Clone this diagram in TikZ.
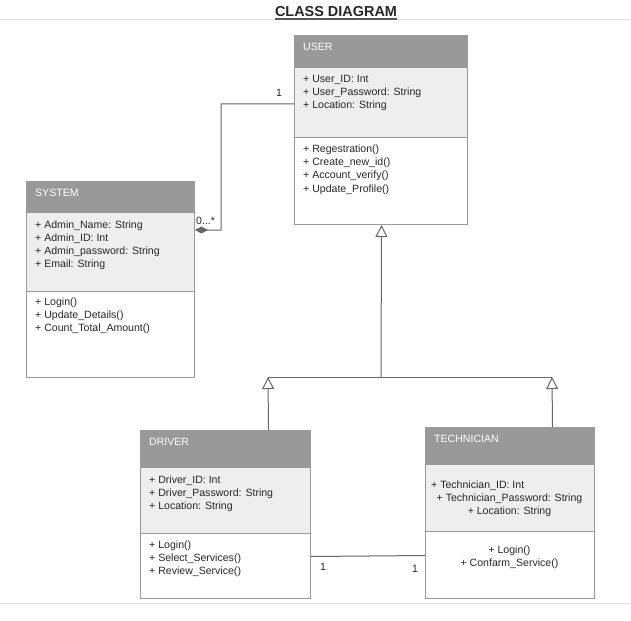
\documentclass[tikz,border=0pt]{standalone}
\usepackage{fontspec}
\setmainfont{Liberation Sans}
\usetikzlibrary{arrows.meta}
\definecolor{hdr}{HTML}{999999}
\definecolor{att}{HTML}{EEEEEE}
\definecolor{brd}{HTML}{9A9A9A}
\definecolor{con}{HTML}{666666}
\definecolor{rule}{HTML}{DDDDDD}
\tikzset{
  classbox/.style={draw=brd, line width=1bp, rectangle, inner sep=0pt, anchor=north west},
  txt/.style={inner sep=0pt, font=\fontsize{10.6}{13}\selectfont, text=black!85, anchor=base west},
  ctxt/.style={txt, anchor=base},
  htxt/.style={txt, text=white},
  conn/.style={draw=con, line width=1bp},
  gen/.style={conn, -{Triangle[open, width=12bp, length=12bp, fill=white]}},
  mult/.style={inner sep=0pt, font=\fontsize{10.6}{13}\selectfont, text=black!85, anchor=base west}
}
\begin{document}
\begin{tikzpicture}[x=1bp,y=-1bp]
\useasboundingbox (0,0) rectangle (631,621);
% page rules
\coordinate (rtl) at (0,20); \coordinate (rtr) at (631,20);
\coordinate (rbl) at (0,603); \coordinate (rbr) at (631,603);
\draw[rule, line width=1bp] (rtl) -- (rtr);
\draw[rule, line width=1bp] (rbl) -- (rbr);
% title
\node[inner sep=0pt, anchor=base, font=\fontsize{14.5}{16}\bfseries\selectfont, text=black!85] (title) at (336,16.5) {CLASS DIAGRAM};
\draw[black!65, line width=2bp] (title.west |- 0,19) -- (title.east |- 0,19);

% ---------- USER ----------
\fill[hdr] (294,35) rectangle (467,68);
\fill[att] (294,68) rectangle (467,138);
\draw[brd, line width=1bp] (294,138) -- (467,138);
\node[classbox, minimum width=173bp, minimum height=189bp] (user) at (294,35) {};
\node[htxt] (userh) at (303,51) {USER};
\foreach \t [count=\i] in {{+ User\_ID: Int},{+ User\_Password: String},{+ Location: String}}
  \node[txt] (ua\i) at (303,{83+13*(\i-1)}) {\t};
\foreach \t [count=\i] in {{+ Regestration()},{+ Create\_new\_id()},{+ Account\_verify()},{+ Update\_Profile()}}
  \node[txt] (um\i) at (303,{153+13*(\i-1)}) {\t};

% ---------- SYSTEM ----------
\fill[hdr] (26,181) rectangle (194,213);
\fill[att] (26,213) rectangle (194,291);
\draw[brd, line width=1bp] (26,291) -- (194,291);
\node[classbox, minimum width=168bp, minimum height=196bp] (system) at (26,181) {};
\node[htxt] (systemh) at (35,196) {SYSTEM};
\foreach \t [count=\i] in {{+ Admin\_Name: String},{+ Admin\_ID: Int},{+ Admin\_password: String},{+ Email: String}}
  \node[txt] (sa\i) at (35,{228+13*(\i-1)}) {\t};
\foreach \t [count=\i] in {{+ Login()},{+ Update\_Details()},{+ Count\_Total\_Amount()}}
  \node[txt] (sm\i) at (35,{305+13*(\i-1)}) {\t};

% ---------- DRIVER ----------
\fill[hdr] (140,430) rectangle (310,468);
\fill[att] (140,468) rectangle (310,533);
\draw[brd, line width=1bp] (140,533) -- (310,533);
\node[classbox, minimum width=170bp, minimum height=168bp] (driver) at (140,430) {};
\node[htxt] (driverh) at (149,445) {DRIVER};
\foreach \t [count=\i] in {{+ Driver\_ID: Int},{+ Driver\_Password: String},{+ Location: String}}
  \node[txt] (da\i) at (149,{483+13*(\i-1)}) {\t};
\foreach \t [count=\i] in {{+ Login()},{+ Select\_Services()},{+ Review\_Service()}}
  \node[txt] (dm\i) at (149,{548+13*(\i-1)}) {\t};

% ---------- TECHNICIAN ----------
\fill[hdr] (425,427) rectangle (594,465);
\fill[att] (425,465) rectangle (594,531);
\draw[brd, line width=1bp] (425,531) -- (594,531);
\node[classbox, minimum width=169bp, minimum height=171bp] (tech) at (425,427) {};
\node[htxt] (techh) at (434,442) {TECHNICIAN};
\node[txt] (ta1) at (431,488) {+ Technician\_ID: Int};
\node[ctxt] (ta2) at (509.5,501) {+ Technician\_Password: String};
\node[ctxt] (ta3) at (509.5,514) {+ Location: String};
\node[ctxt] (tm1) at (509.5,553) {+ Login()};
\node[ctxt] (tm2) at (509.5,566) {+ Confarm\_Service()};

% ---------- association USER -- SYSTEM ----------
\coordinate (ua) at ([yshift=-69bp]user.north west);
\coordinate (sa) at ([yshift=-49bp]system.north east);
\coordinate (bend1) at (221,104);
\coordinate (bend2) at (221,230);
\draw[conn, {Diamond[width=7bp, length=13bp, fill=con]}-] (sa) -- (bend2) -- (bend1) -- (ua);
\node[mult] (m1) at (276,97) {1};
\node[mult] (m0) at (196,224) {0...*};

% ---------- generalisation ----------
\coordinate (jm) at (381,377);
\coordinate (jl) at (268,377);
\coordinate (jr) at (552,377);
\draw[conn] (jl) -- (jr);
\draw[gen] (jm) -- ([xshift=0.5bp]user.south);
\draw[gen] ([xshift=43bp]driver.north) -- (jl);
\draw[gen] ([xshift=42.5bp]tech.north) -- (jr);

% ---------- association DRIVER -- TECHNICIAN ----------
\draw[conn] ([yshift=-42bp]driver.east) -- ([yshift=-42.5bp]tech.west);
\node[mult] (m2) at (320,570) {1};
\node[mult] (m3) at (412,572) {1};
\end{tikzpicture}
\end{document}
